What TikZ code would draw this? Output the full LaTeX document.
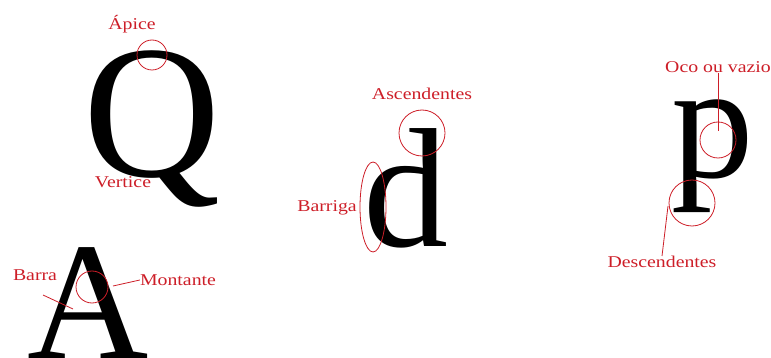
\documentclass[tikz,border=0pt]{standalone}
\usepackage{fontspec}
\setmainfont{Liberation Serif}
\newfontfamily\lblfont[FakeStretch=1.2]{Liberation Serif}
\usetikzlibrary{shapes.geometric}
\definecolor{lblred}{RGB}{205,30,40}

\begin{document}
\begin{tikzpicture}[x=1pt, y=-1pt,
    glyph/.style={anchor=base, inner sep=0pt, font=\fontsize{#1}{#1}\selectfont},
    lbl/.style={text=lblred, inner sep=0pt, font=\lblfont\fontsize{16.5}{18}\selectfont},
    ring/.style={draw=lblred, line width=0.8pt, circle, inner sep=0pt, minimum size=#1},
    pointer/.style={draw=lblred, line width=0.8pt},
]
\useasboundingbox (0,0) rectangle (771,358);

\node[glyph=190] (q) at (152,177) {Q};
\node[glyph=168] (a) at (88,358) {A};
\node[glyph=170] (d) at (406,247) {d};
\node[glyph=165] (p) at (713,178) {p};

\node[lbl] (apice) at (132,24) {Ápice};
\node[ring=30] (apiceRing) at (152,55) {};
\node[lbl] (vertice) at (123,182) {Vertice};

\node[lbl] (barra) at (35,275) {Barra};
\coordinate (barraStart) at (43,295);
\coordinate (barraEnd) at (73,309);
\draw[pointer] (barraStart) -- (barraEnd);
\node[ring=32] (montRing) at (92,287) {};
\node[lbl] (montante) at (178,280) {Montante};
\coordinate (montStart) at (113,286);
\draw[pointer] (montStart) -- (montante.west);

\node[lbl] (ascend) at (422,94) {Ascendentes};
\node[ring=46] (ascendRing) at (422,133) {};
\node[lbl] (barriga) at (327,208) {Barriga};
\node[draw=lblred, line width=0.8pt, ellipse, inner sep=0pt,
      minimum width=26, minimum height=90] (barrigaRing) at (373,207) {};

\node[lbl] (oco) at (718,67) {Oco ou vazio};
\node[ring=36] (ocoRing) at (718,140) {};
\coordinate (ocoEnd) at (718,131);
\draw[pointer] (oco.south) -- (ocoEnd);

\node[ring=46] (descRing) at (692,203) {};
\node[lbl] (descend) at (662,262) {Descendentes};
\coordinate (descStart) at (668,206);
\draw[pointer] (descStart) -- (descend.north);
\end{tikzpicture}
\end{document}
